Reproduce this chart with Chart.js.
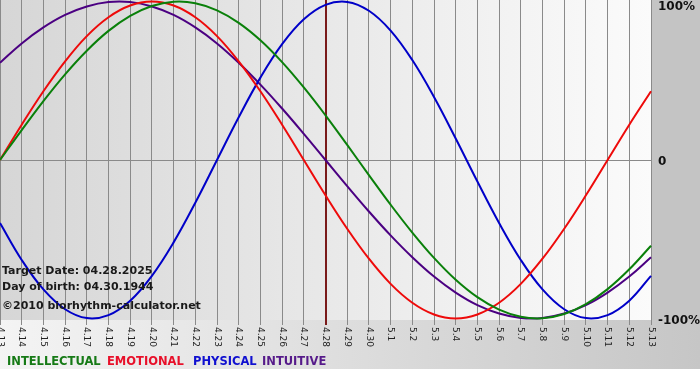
<!DOCTYPE html>
<html>
<head>
<meta charset="utf-8">
<script src="https://cdn.jsdelivr.net/npm/chart.js@4"></script>
<style>
  body { margin: 0; background: #fff; }
  #wrap { position: relative; width: 700px; height: 380px; }
  .info { position: absolute; left: 2px; font: bold 11px "DejaVu Sans", sans-serif; color: #1a1a1a; line-height: 14px; white-space: nowrap; }
  .leg { position: absolute; top: 354px; font: bold 11.5px "DejaVu Sans", sans-serif; line-height: 14px; white-space: nowrap; }
</style>
</head>
<body>
<div id="wrap">
  <canvas id="bioChart" width="700" height="380"></canvas>
  <div class="info" style="top:264px">Target Date: 04.28.2025</div>
  <div class="info" style="top:280px">Day of birth: 04.30.1944</div>
  <div class="info" style="top:299px">©2010 biorhythm-calculator.net</div>
  <div class="leg" style="left:7px;color:#167a16">INTELLECTUAL</div>
  <div class="leg" style="left:107px;color:#e8102a">EMOTIONAL</div>
  <div class="leg" style="left:193px;color:#1010d0">PHYSICAL</div>
  <div class="leg" style="left:262px;color:#561a8a">INTUITIVE</div>
</div>
<script>
const dayLabels = [
  "4.13", "4.14", "4.15", "4.16", "4.17", "4.18", "4.19", "4.20", "4.21", "4.22",
  "4.23", "4.24", "4.25", "4.26", "4.27", "4.28", "4.29", "4.30", "5.1", "5.2",
  "5.3", "5.4", "5.5", "5.6", "5.7", "5.8", "5.9", "5.10", "5.11", "5.12", "5.13"
];

// values, -1 .. 1 (shown as -100% .. 100%)
const intellectual = [
  0, 0.189, 0.372, 0.541, 0.690, 0.815, 0.910, 0.972, 0.999, 0.990,
  0.945, 0.866, 0.756, 0.618, 0.458, 0.282, 0.095, -0.095, -0.282, -0.458,
  -0.618, -0.756, -0.866, -0.945, -0.990, -0.999, -0.972, -0.910, -0.815, -0.690, -0.541
];
const emotional = [
  0, 0.223, 0.434, 0.623, 0.782, 0.901, 0.975, 1.0, 0.975, 0.901,
  0.782, 0.623, 0.434, 0.223, 0, -0.223, -0.434, -0.623, -0.782, -0.901,
  -0.975, -1.0, -0.975, -0.901, -0.782, -0.623, -0.434, -0.223, 0, 0.223, 0.434
];
const physical = [
  -0.398, -0.631, -0.817, -0.942, -0.998, -0.979, -0.888, -0.731, -0.520, -0.270,
  0, 0.270, 0.520, 0.731, 0.888, 0.979, 0.998, 0.942, 0.817, 0.631,
  0.398, 0.136, -0.136, -0.398, -0.631, -0.817, -0.942, -0.998, -0.979, -0.888, -0.731
];
const intuitive = [
  0.614, 0.736, 0.837, 0.916, 0.969, 0.997, 0.997, 0.969, 0.916, 0.837,
  0.736, 0.614, 0.476, 0.325, 0.165, 0, -0.165, -0.325, -0.476, -0.614,
  -0.736, -0.837, -0.916, -0.969, -0.997, -0.997, -0.969, -0.916, -0.837, -0.736, -0.614
];

const yTickValues = [1, 0, -1];
const yTickLabels = ["100%", "0", "-100%"];
const targetDay = "4.28";

// backgrounds behind the plot, bottom band and right margin
const bgPlugin = {
  id: "bgPlugin",
  beforeDraw(chart) {
    const c = chart.ctx;
    const a = chart.chartArea;
    const W = chart.width;
    c.save();
    c.fillStyle = "#ffffff";
    c.fillRect(0, 0, W, chart.height);

    let g = c.createLinearGradient(a.left, 0, a.right, 0);
    g.addColorStop(0, "#d6d6d6");
    g.addColorStop(1, "#fbfbfb");
    c.fillStyle = g;
    c.fillRect(a.left, a.top, a.right - a.left, a.bottom - a.top);

    c.fillStyle = "#c4c4c4";
    c.fillRect(a.right, 0, W - a.right, a.bottom);

    g = c.createLinearGradient(0, 0, W, 0);
    g.addColorStop(0, "#f4f4f4");
    g.addColorStop(1, "#c6c6c6");
    c.fillStyle = g;
    c.fillRect(0, a.bottom, W, 49);
    c.restore();
  },
  beforeDatasetsDraw(chart) {
    const c = chart.ctx;
    const a = chart.chartArea;
    const x = Math.round(chart.scales.x.getPixelForValue(dayLabels.indexOf(targetDay)));
    c.save();
    c.strokeStyle = "#7a1a1a";
    c.lineWidth = 2;
    c.beginPath();
    c.moveTo(x, a.top);
    c.lineTo(x, a.bottom + 5);
    c.stroke();
    c.restore();
  },
  afterDraw(chart) {
    const c = chart.ctx;
    const a = chart.chartArea;
    const xs = chart.scales.x;
    const ys = chart.scales.y;
    c.save();
    c.fillStyle = "#222";
    c.font = '9px "DejaVu Sans", sans-serif';
    c.textAlign = "left";
    c.textBaseline = "middle";
    dayLabels.forEach((lab, i) => {
      const x = xs.getPixelForValue(i);
      c.save();
      c.translate(x, a.bottom + 7);
      c.rotate(Math.PI / 2);
      c.fillText(lab, 0, 0);
      c.restore();
    });

    c.font = 'bold 12px "DejaVu Sans", sans-serif';
    c.fillStyle = "#111";
    yTickValues.forEach((v, i) => {
      const y = Math.max(7, ys.getPixelForValue(v) + 2);
      c.fillText(yTickLabels[i], a.right + 7, y);
    });
    c.restore();
  }
};

document.addEventListener("DOMContentLoaded", function () {
  const ctx = document.getElementById("bioChart").getContext("2d");
  new Chart(ctx, {
    type: "line",
    data: {
      labels: dayLabels,
      datasets: [
        { label: "INTELLECTUAL", data: intellectual, borderColor: "#0a800a" },
        { label: "EMOTIONAL", data: emotional, borderColor: "#ee0a0a" },
        { label: "PHYSICAL", data: physical, borderColor: "#0000c8" },
        { label: "INTUITIVE", data: intuitive, borderColor: "#4b0082" },
      ],
    },
    options: {
      responsive: false,
      animation: false,
      layout: { padding: 0 },
      elements: {
        point: { radius: 0 },
        line: { tension: 0.4, borderWidth: 2, fill: false },
      },
      plugins: {
        legend: { display: false },
        tooltip: { enabled: false },
      },
      scales: {
        x: {
          offset: false,
          border: { display: false },
          grid: { color: "#8a8a8a", lineWidth: 1, drawTicks: true, tickLength: 5, tickColor: "#8a8a8a" },
          ticks: { display: false, autoSkip: false },
          afterFit(s) {
            s.height = 60;
            s.paddingLeft = 0;
            s.paddingRight = 0;
          },
        },
        y: {
          position: "right",
          min: -1.01,
          max: 1.01,
          border: { display: false },
          afterBuildTicks(s) {
            s.ticks = yTickValues.map((v) => ({ value: v }));
          },
          grid: {
            color: (c) => (c.tick && c.tick.value === 0 ? "#8a8a8a" : "rgba(0,0,0,0)"),
            drawTicks: false,
          },
          ticks: { display: false },
          afterFit(s) {
            s.width = 49;
            s.paddingTop = 0;
            s.paddingBottom = 0;
          },
        },
      },
    },
    plugins: [bgPlugin],
  });
});
</script>
</body>
</html>
